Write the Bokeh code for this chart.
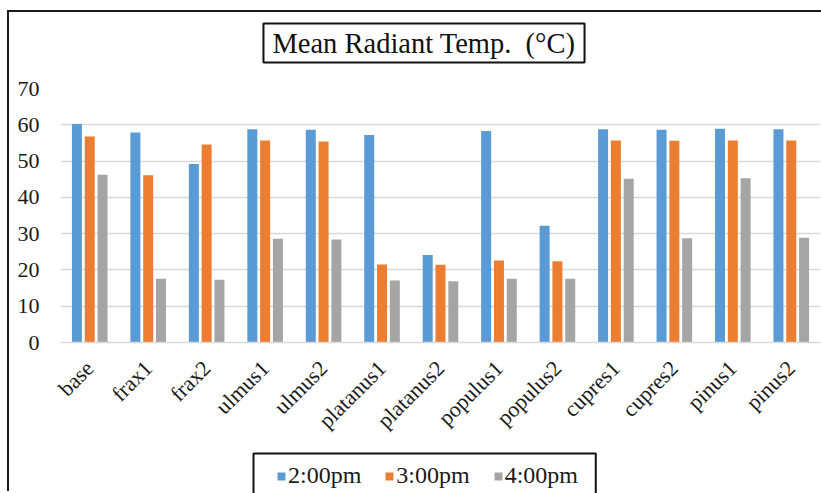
from math import pi
from bokeh.plotting import figure
from bokeh.layouts import column
from bokeh.models import (FactorRange, Range1d, FixedTicker, Label, Legend, LegendItem,
                          ColumnDataSource)
from bokeh.transform import dodge
from bokeh.embed import file_html
from bokeh.resources import INLINE

categories = ["base", "frax1", "frax2", "ulmus1", "ulmus2", "platanus1", "platanus2",
              "populus1", "populus2", "cupres1", "cupres2", "pinus1", "pinus2"]
series_names = ["2:00pm", "3:00pm", "4:00pm"]
pm2 = [60.2, 57.9, 49.2, 58.8, 58.6, 57.2, 24.1, 58.3, 32.2, 58.8, 58.6, 58.9, 58.8]
pm3 = [56.8, 46.1, 54.6, 55.7, 55.4, 21.5, 21.4, 22.6, 22.4, 55.7, 55.6, 55.7, 55.7]
pm4 = [46.2, 17.6, 17.3, 28.6, 28.4, 17.1, 16.9, 17.6, 17.6, 45.1, 28.7, 45.3, 28.9]
y_ticks = [0, 10, 20, 30, 40, 50, 60, 70]
title_text = "Mean Radiant Temp.\u00a0 (\u00b0C)"

colors = ["#5B9BD5", "#ED7D31", "#A5A5A5"]
SERIF = "Liberation Serif"
W = 840
RB = 29


def blank(height):
    f = figure(width=W, height=height, x_range=Range1d(0, 1), y_range=Range1d(0, 1),
               output_backend="svg", toolbar_location=None,
               x_axis_location=None, y_axis_location=None,
               min_border_left=51, min_border_right=RB, min_border_top=0, min_border_bottom=0)
    f.grid.visible = False
    f.outline_line_color = None
    f.background_fill_color = "white"
    f.border_fill_color = "white"
    return f


# --- title strip (label positions are relative to the aligned plot frame) ---
ptop = blank(64)
ptop.add_layout(Label(x=363.5, y=33.5, x_units="screen", y_units="screen", text=title_text,
                      text_align="center", text_baseline="middle", text_font=SERIF,
                      text_font_size="28.5px", text_color="#111",
                      padding=dict(left=9, right=9, top=4, bottom=4),
                      border_line_color="#111", border_line_width=2,
                      background_fill_color="white"))

# --- main chart ---
src = ColumnDataSource(dict(cat=categories, pm2=pm2, pm3=pm3, pm4=pm4))
p = figure(x_range=FactorRange(*categories), y_range=Range1d(0, 70),
           width=W, height=372, output_backend="svg", toolbar_location=None,
           min_border_left=51, min_border_right=RB, min_border_top=12,
           min_border_bottom=106)
p.x_range.range_padding = 0
p.outline_line_color = None
p.background_fill_color = "white"
p.border_fill_color = "white"

for field, off, col in zip(["pm2", "pm3", "pm4"], [-0.219, 0.0, 0.219], colors):
    p.vbar(x=dodge("cat", off, range=p.x_range), top=field, width=0.171,
           source=src, fill_color=col, line_color=None)

p.xgrid.grid_line_color = None
p.ygrid.grid_line_color = "#D9D9D9"
p.ygrid.grid_line_width = 1.5
p.yaxis.ticker = FixedTicker(ticks=y_ticks)
p.yaxis.axis_line_color = None
p.yaxis.major_tick_line_color = None
p.yaxis.minor_tick_line_color = None
p.yaxis.major_label_text_font = SERIF
p.yaxis.major_label_text_font_size = "22px"
p.yaxis.major_label_text_color = "#1a1a1a"
p.yaxis.major_label_standoff = 15

p.xaxis.axis_line_color = "#D9D9D9"
p.xaxis.axis_line_width = 1.5
p.xaxis.major_tick_line_color = None
p.xaxis.minor_tick_line_color = None
p.xaxis.major_label_orientation = pi / 4
p.xaxis.major_label_text_font = SERIF
p.xaxis.major_label_text_font_size = "22px"
p.xaxis.major_label_text_color = "#1a1a1a"
p.xaxis.major_label_standoff = 16

# --- legend strip ---
pbot = blank(45)
box = Label(x=193, y=40, x_units="screen", y_units="screen", text="\u00a0",
            text_align="left", text_baseline="top", text_font_size="1px",
            padding=dict(left=0, right=342, top=0, bottom=60),
            border_line_color="#111", border_line_width=2,
            background_fill_color="white", level="underlay")
pbot.add_layout(box)
# zero-size stand-in glyphs that only carry the legend swatch colours
swatches = [pbot.vbar(x=[0], top=[0], width=0, fill_color=c, line_color=None) for c in colors]
legend = Legend(items=[LegendItem(label=n, renderers=[r]) for n, r in zip(series_names, swatches)],
                location=(216, 4), orientation="horizontal",
                border_line_alpha=0, background_fill_alpha=0, padding=0, margin=0,
                glyph_width=10, glyph_height=10, label_standoff=2, spacing=23,
                label_text_font=SERIF, label_text_font_size="24px",
                label_text_color="#1a1a1a")
pbot.add_layout(legend, "center")

layout = column(ptop, p, pbot, spacing=0, width=W)
layout.styles = {"margin-left": "9px", "margin-top": "12px", "min-width": f"{W}px",
                 "box-shadow": "-2px -2px 0 0 #1a1a1a"}

open("out.html", "w").write(file_html(layout, INLINE))
